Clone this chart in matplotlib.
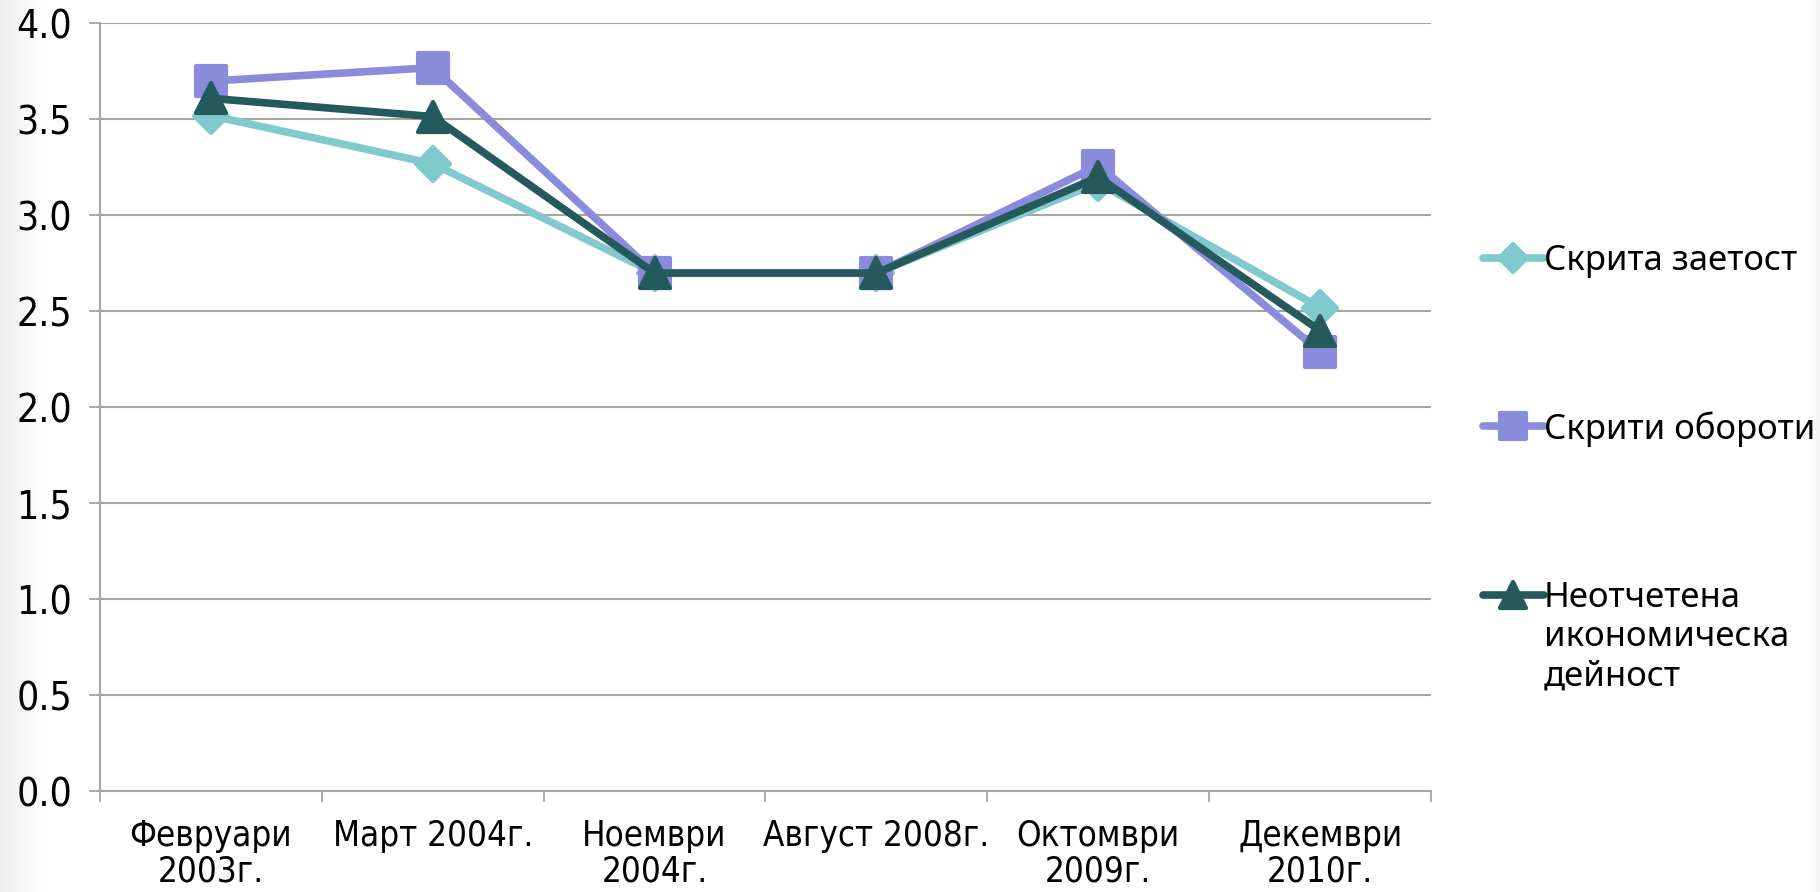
import numpy as np
import matplotlib.pyplot as plt
from matplotlib.markers import MarkerStyle

# данни, прочетени от графиката
periods = ['Февруари\n2003г.', 'Март 2004г.', 'Ноември\n2004г.',
           'Август 2008г.', 'Октомври\n2009г.', 'Декември\n2010г.']
skrita_zaetost = [3.52, 3.27, 2.70, 2.70, 3.17, 2.52]
skriti_oboroti = [3.70, 3.77, 2.70, 2.70, 3.26, 2.29]
neotchetena = [3.61, 3.515, 2.70, 2.70, 3.20, 2.40]
series_names = ['Скрита заетост', 'Скрити обороти',
                'Неотчетена\nикономическа\nдейност']
yticks = [0.0, 0.5, 1.0, 1.5, 2.0, 2.5, 3.0, 3.5, 4.0]

colors = ['#80C9CD', '#8A8CDB', '#245A5C']
markers = ['D', 's', '^']
msizes = [17, 22, 22]
grid_c = '#A6A6A6'

fig = plt.figure(figsize=(18.2, 8.92), dpi=100)

# светли сиви ленти отляво и отдясно
grad = np.linspace(0, 1, 50).reshape(1, -1)
bl = fig.add_axes([0, 0, 0.024, 1], zorder=-5)
bl.imshow(grad, cmap='Greys_r', vmin=-6, vmax=1, aspect='auto')
bl.axis('off')
br = fig.add_axes([0.9945, 0, 0.0055, 1], zorder=-5)
br.imshow(grad[:, ::-1], cmap='Greys_r', vmin=-9, vmax=1, aspect='auto')
br.axis('off')

ax = fig.add_axes([0.0549, 0.1127, 0.7314, 0.8610])
x = np.arange(len(periods))
data = [skrita_zaetost, skriti_oboroti, neotchetena]
for i in range(3):
    ax.plot(x, data[i], color=colors[i], lw=5.5, solid_capstyle='round',
            solid_joinstyle='round',
            marker=MarkerStyle(markers[i], joinstyle='round'),
            ms=msizes[i], mfc=colors[i], mec=colors[i], mew=3,
            label=series_names[i], zorder=3 + i)

ax.set_xlim(-0.5, len(periods) - 0.5)
ax.set_ylim(0, 4)
ax.set_yticks(yticks)
ax.set_yticklabels(['%.1f' % v for v in yticks], family='DejaVu Sans',
                   fontstretch='condensed', fontsize=28)
ax.set_xticks(x)
ax.set_xticklabels(periods, family='DejaVu Sans', fontstretch='condensed',
                   fontsize=25, linespacing=1.05)
ax.set_xticks(np.arange(-0.5, len(periods)), minor=True)
ax.tick_params(axis='x', which='major', length=0, pad=20)
ax.tick_params(axis='x', which='minor', length=8, width=1.3, color=grid_c)
ax.tick_params(axis='y', length=8, width=1.3, color=grid_c, pad=12)

ax.grid(axis='y', color=grid_c, lw=1.5)
ax.set_axisbelow(True)
for s in ['top', 'right']:
    ax.spines[s].set_visible(False)
for s in ['left', 'bottom']:
    ax.spines[s].set_color(grid_c)
    ax.spines[s].set_linewidth(1.5)

leg = fig.legend(loc='upper left', bbox_to_anchor=(0.8148, 0.727),
                 frameon=False, prop={'family': ['Noto Sans', 'DejaVu Sans'],
                                      'size': 25},
                 handlelength=1.75, handletextpad=0.0, handleheight=1.15,
                 labelspacing=3.85, borderpad=0, borderaxespad=0,
                 markerscale=0.85)
# маркерът да стои срещу първия ред на текста
for col in leg._legend_handle_box.get_children():
    for row in col.get_children():
        row.align = 'top'

fig.savefig('out.png', dpi=100)
